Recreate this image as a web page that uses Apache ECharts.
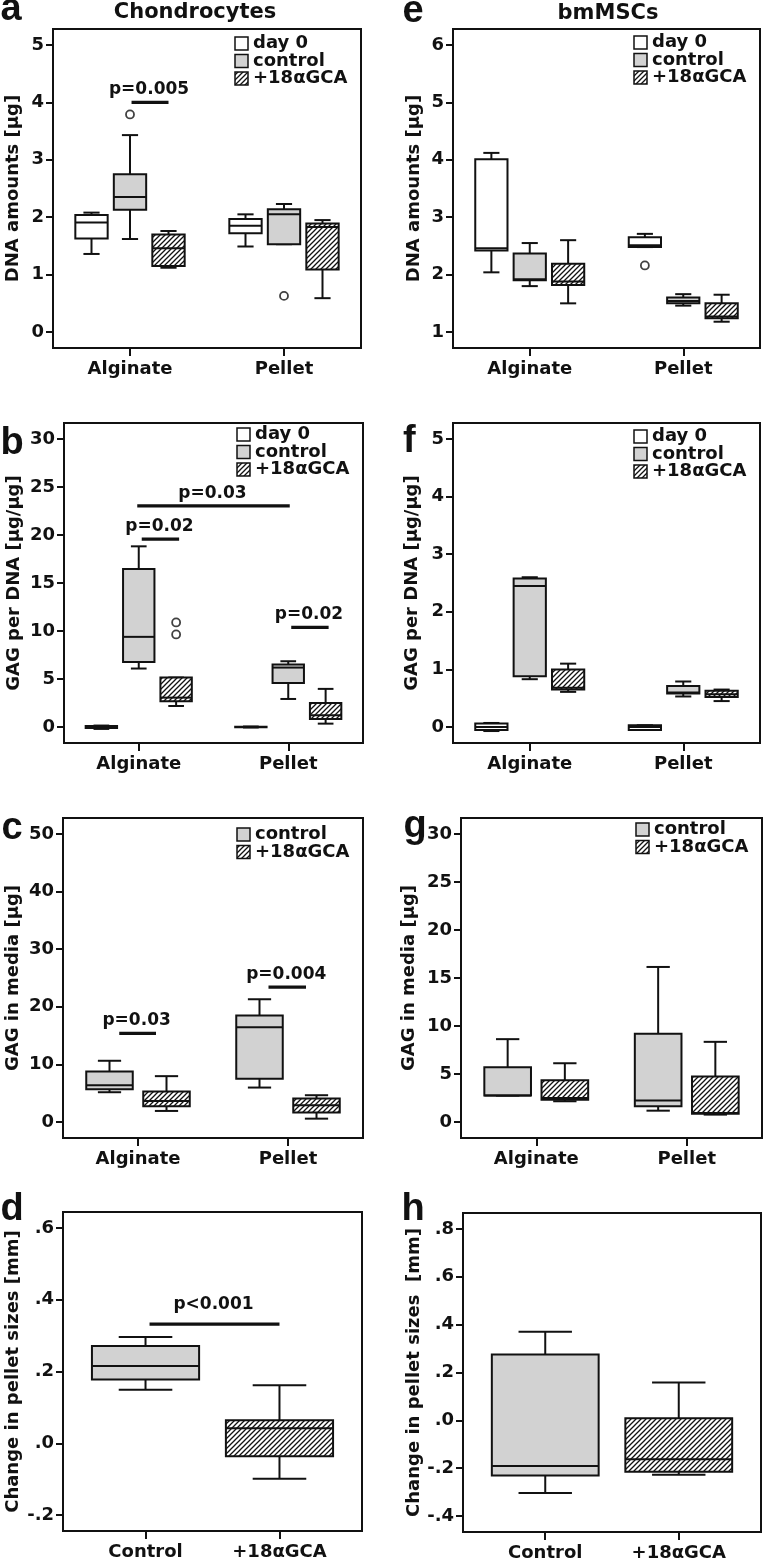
<!DOCTYPE html>
<html>
<head>
<meta charset="utf-8">
<script src="https://cdn.jsdelivr.net/npm/echarts/dist/echarts.min.js"></script>
<style>html,body{margin:0;padding:0;background:#fff}#chart{width:764px;height:1562px}</style>
</head>
<body>
<div id="chart"></div>
<script>
// 类别
const groupCats = ['Alginate', 'Pellet'];
const sizeCats = ['Control', '+18αGCA'];
const seriesNames = ['day 0', 'control', '+18αGCA'];

// 每行: [下须, Q1, 中位数, Q3, 上须]，顺序 Alginate, Pellet
// a: Chondrocytes DNA
const aTicks = [0, 1, 2, 3, 4, 5];
const aDay0 = [[1.36, 1.63, 1.91, 2.04, 2.08], [1.49, 1.72, 1.85, 1.97, 2.05]];
const aControl = [[1.62, 2.13, 2.35, 2.75, 3.43], [1.53, 1.53, 2.05, 2.14, 2.23]];
const aGca = [[1.12, 1.15, 1.46, 1.70, 1.76], [0.59, 1.09, 1.83, 1.89, 1.95]];
const aControlOut = [[0, 3.79], [1, 0.63]];
const aP = [[1.01, 1.25, 4.0, 'p=0.005']];

// b: Chondrocytes GAG/DNA
const bTicks = [0, 5, 10, 15, 20, 25, 30];
const bDay0 = [[-0.2, -0.1, 0, 0.1, 0.15], [-0.05, -0.02, 0, 0.02, 0.05]];
const bControl = [[6.09, 6.78, 9.39, 16.46, 18.82], [2.92, 4.59, 6.19, 6.51, 6.85]];
const bGca = [[2.19, 2.68, 3.06, 5.15, 5.15], [0.35, 0.84, 1.22, 2.50, 3.97]];
const bGcaOut = [[0, 10.89], [0, 9.64]];
const bP = [[1.02, 1.27, 19.56, 'p=0.02'], [0.99, 2.01, 23.04, 'p=0.03'], [2.02, 2.27, 10.37, 'p=0.02']];

// c: Chondrocytes GAG in media
const cTicks = [0, 10, 20, 30, 40, 50];
const cControl = [[5.17, 5.69, 6.39, 8.77, 10.63], [5.98, 7.49, 16.43, 18.47, 21.31]];
const cGca = [[1.92, 2.73, 3.66, 5.28, 7.96], [0.58, 1.63, 2.9, 4.07, 4.65]];
const cP = [[0.875, 1.12, 15.38, 'p=0.03'], [1.87, 2.12, 23.4, 'p=0.004']];

// d: Chondrocytes pellet size
const dTicks = [-0.2, 0, 0.2, 0.4, 0.6];
const dControl = [[0.149, 0.178, 0.215, 0.271, 0.296]];
const dGca = [[-0.099, -0.036, 0.042, 0.064, 0.162]];
const dP = [[1.03, 2.0, 0.332, 'p<0.001']];

// e: bmMSCs DNA
const eTicks = [1, 2, 3, 4, 5, 6];
const eDay0 = [[2.04, 2.42, 2.46, 4.01, 4.12], [2.48, 2.48, 2.51, 2.65, 2.71]];
const eControl = [[1.80, 1.90, 1.92, 2.37, 2.55], [1.46, 1.50, 1.54, 1.60, 1.66]];
const eGca = [[1.50, 1.82, 1.88, 2.19, 2.60], [1.18, 1.24, 1.27, 1.50, 1.65]];
const eDay0Out = [[1, 2.16]];

// f: bmMSCs GAG/DNA
const fTicks = [0, 1, 2, 3, 4, 5];
const fDay0 = [[-0.07, -0.05, 0, 0.06, 0.07], [-0.05, -0.05, 0, 0.03, 0.03]];
const fControl = [[0.83, 0.88, 2.45, 2.58, 2.60], [0.53, 0.58, 0.60, 0.71, 0.79]];
const fGca = [[0.61, 0.65, 0.68, 1.00, 1.10], [0.45, 0.52, 0.57, 0.63, 0.65]];

// g: bmMSCs GAG in media
const gTicks = [0, 5, 10, 15, 20, 25, 30];
const gControl = [[2.75, 2.75, 2.75, 5.71, 8.63], [1.18, 1.64, 2.23, 9.19, 16.15]];
const gGca = [[2.16, 2.33, 2.51, 4.35, 6.12], [0.77, 0.87, 0.94, 4.73, 8.35]];

// h: bmMSCs pellet size
const hTicks = [-0.4, -0.2, 0, 0.2, 0.4, 0.6, 0.8];
const hControl = [[-0.304, -0.230, -0.191, 0.275, 0.370]];
const hGca = [[-0.227, -0.215, -0.163, 0.009, 0.158]];

const FONT = 'DejaVu Sans';
const INK = '#111';
const GRAY = '#d2d2d2';

// 斜线填充
function makeHatch() {
  const s = 5;
  const cv = document.createElement('canvas');
  cv.width = s; cv.height = s;
  const ctx = cv.getContext('2d');
  ctx.fillStyle = '#fff';
  ctx.fillRect(0, 0, s, s);
  ctx.strokeStyle = INK;
  ctx.lineWidth = 1.3;
  ctx.beginPath();
  ctx.moveTo(0, s); ctx.lineTo(s, 0);
  ctx.moveTo(-1, 1); ctx.lineTo(1, -1);
  ctx.moveTo(s - 1, s + 1); ctx.lineTo(s + 1, s - 1);
  ctx.stroke();
  return { image: cv, repeat: 'repeat' };
}
const HATCH = makeHatch();

// 网格位置
const grids = [
  { left: 53, top: 29, width: 308, height: 319 },   // a
  { left: 64, top: 423, width: 299, height: 320 },  // b
  { left: 63, top: 818, width: 300, height: 320 },  // c
  { left: 63, top: 1212, width: 299, height: 319 }, // d
  { left: 453, top: 29, width: 307, height: 319 },  // e
  { left: 453, top: 423, width: 307, height: 320 }, // f
  { left: 461, top: 818, width: 301, height: 320 }, // g
  { left: 463, top: 1213, width: 298, height: 319 } // h
];

function intFmt(v) { return String(Math.round(v)); }
function decFmt(v) { return v.toFixed(1).replace(/^(-?)0\./, '$1.'); }

function xAxisCfg(i, cats, range) {
  return {
    type: 'value', gridIndex: i, min: range[0], max: range[1],
    splitLine: { show: false },
    axisLine: { show: false, onZero: false },
    axisTick: { show: true, customValues: [1, 2], length: 8, lineStyle: { color: INK, width: 2 } },
    axisLabel: {
      customValues: [1, 2], formatter: v => cats[Math.round(v) - 1], margin: 12,
      color: INK, fontSize: 18, fontWeight: 'bold', fontFamily: FONT
    }
  };
}

function yAxisCfg(i, ticks, name, nameGap, fmt) {
  const span = ticks[ticks.length - 1] - ticks[0];
  return {
    type: 'value', gridIndex: i,
    min: ticks[0] - span / 18, max: ticks[ticks.length - 1] + span / 18,
    name: name, nameLocation: 'middle', nameGap: nameGap, nameRotate: 90,
    nameTextStyle: { color: INK, fontSize: 18, fontWeight: 'bold', fontFamily: FONT },
    splitLine: { show: false },
    axisLine: { show: false, onZero: false },
    axisTick: { show: true, customValues: ticks, length: 7, lineStyle: { color: INK, width: 2 } },
    axisLabel: {
      customValues: ticks, formatter: fmt, margin: 9,
      color: INK, fontSize: 18, fontWeight: 'bold', fontFamily: FONT
    }
  };
}

// 箱线图
function boxSeries(i, name, rows, offset, width, fill) {
  return {
    type: 'custom', name: name, xAxisIndex: i, yAxisIndex: i, clip: false,
    data: rows.map((r, k) => [k + 1 + offset].concat(r)),
    encode: { x: 0, y: [1, 2, 3, 4, 5] },
    renderItem(params, api) {
      const x = api.value(0);
      const c = v => api.coord([x, v]);
      const hw = width * api.size([1, 0])[0] / 2;
      const lo = c(api.value(1)), q1 = c(api.value(2)), md = c(api.value(3));
      const q3 = c(api.value(4)), hi = c(api.value(5));
      const cx = lo[0];
      const ln = (x1, y1, x2, y2) => ({
        type: 'line', shape: { x1, y1, x2, y2 }, style: { stroke: INK, lineWidth: 2 }
      });
      return {
        type: 'group', children: [
          ln(cx, hi[1], cx, q3[1]),
          ln(cx, q1[1], cx, lo[1]),
          ln(cx - hw / 2, hi[1], cx + hw / 2, hi[1]),
          ln(cx - hw / 2, lo[1], cx + hw / 2, lo[1]),
          {
            type: 'rect',
            shape: { x: cx - hw, y: q3[1], width: 2 * hw, height: Math.max(q1[1] - q3[1], 0.5) },
            style: { fill: fill, stroke: INK, lineWidth: 2 }
          },
          ln(cx - hw, md[1], cx + hw, md[1])
        ]
      };
    }
  };
}

// 离群点
function outlierSeries(i, pts, offset) {
  return {
    type: 'scatter', xAxisIndex: i, yAxisIndex: i, symbol: 'circle', symbolSize: 8,
    itemStyle: { color: '#fff', borderColor: INK, borderWidth: 1.8 },
    data: pts.map(p => [p[0] + 1 + offset, p[1]]), z: 5
  };
}

// 显著性标注
function pSeries(i, rows, gap) {
  return {
    type: 'custom', xAxisIndex: i, yAxisIndex: i, clip: false, z: 6,
    data: rows.map(r => [r[0], r[1], r[2]]),
    encode: { x: [0, 1], y: 2 },
    renderItem(params, api) {
      const p1 = api.coord([api.value(0), api.value(2)]);
      const p2 = api.coord([api.value(1), api.value(2)]);
      return {
        type: 'group', children: [
          { type: 'line', shape: { x1: p1[0], y1: p1[1], x2: p2[0], y2: p2[1] }, style: { stroke: INK, lineWidth: 3.3 } },
          {
            type: 'text',
            style: {
              x: (p1[0] + p2[0]) / 2 - 1, y: p1[1] - gap, text: rows[params.dataIndex][3],
              align: 'center', verticalAlign: 'bottom', fill: INK,
              font: 'bold 17px "' + FONT + '"'
            }
          }
        ]
      };
    }
  };
}

// 图例
function legendGraphic(g, entries, dy) {
  const x0 = g.left + g.width - 126;
  const out = [];
  entries.forEach((e, k) => {
    const y = g.top + dy + k * 17.5;
    out.push({ type: 'rect', shape: { x: x0, y: y, width: 13, height: 13 }, style: { fill: e[1], stroke: INK, lineWidth: 1.5 } });
    out.push({ type: 'text', style: { x: x0 + 18, y: y + 6.5, text: e[0], fill: INK, font: 'bold 18px "' + FONT + '"', verticalAlign: 'middle' } });
  });
  return out;
}

function letter(t, x, y) {
  return { type: 'text', style: { x: x, y: y, text: t, fill: INK, font: 'bold 38px "Liberation Sans"', verticalAlign: 'middle' } };
}

const fills = ['#fff', GRAY, HATCH];
const R3 = [0.5, 2.5];
const R2 = [0.384, 2.616];
const W3 = 0.21, W2 = 0.31, W1 = 0.8;

const option = {
  animation: false,
  backgroundColor: '#fff',
  grid: grids.map(g => Object.assign({ show: true, borderColor: INK, borderWidth: 2, backgroundColor: 'transparent' }, g)),
  xAxis: [
    xAxisCfg(0, groupCats, R3), xAxisCfg(1, groupCats, R3), xAxisCfg(2, groupCats, R3), xAxisCfg(3, sizeCats, R2),
    xAxisCfg(4, groupCats, R3), xAxisCfg(5, groupCats, R3), xAxisCfg(6, groupCats, R3), xAxisCfg(7, sizeCats, R2)
  ],
  yAxis: [
    yAxisCfg(0, aTicks, 'DNA amounts [µg]', 31, intFmt),
    yAxisCfg(1, bTicks, 'GAG per DNA [µg/µg]', 41, intFmt),
    yAxisCfg(2, cTicks, 'GAG in media [µg]', 41, intFmt),
    yAxisCfg(3, dTicks, 'Change in pellet sizes [mm]', 41, decFmt),
    yAxisCfg(4, eTicks, 'DNA amounts [µg]', 30, intFmt),
    yAxisCfg(5, fTicks, 'GAG per DNA [µg/µg]', 32, intFmt),
    yAxisCfg(6, gTicks, 'GAG in media [µg]', 43, intFmt),
    yAxisCfg(7, hTicks, 'Change in pellet sizes  [mm]', 37, decFmt)
  ],
  series: [
    boxSeries(0, seriesNames[0], aDay0, -0.25, W3, fills[0]),
    boxSeries(0, seriesNames[1], aControl, 0, W3, fills[1]),
    boxSeries(0, seriesNames[2], aGca, 0.25, W3, fills[2]),
    outlierSeries(0, aControlOut, 0),
    pSeries(0, aP, 4),

    boxSeries(1, seriesNames[0], bDay0, -0.25, W3, fills[0]),
    boxSeries(1, seriesNames[1], bControl, 0, W3, fills[1]),
    boxSeries(1, seriesNames[2], bGca, 0.25, W3, fills[2]),
    outlierSeries(1, bGcaOut, 0.25),
    pSeries(1, bP, 4),

    boxSeries(2, seriesNames[1], cControl, -0.19, W2, fills[1]),
    boxSeries(2, seriesNames[2], cGca, 0.19, W2, fills[2]),
    pSeries(2, cP, 4),

    boxSeries(3, sizeCats[0], dControl, 0, W1, fills[1]),
    boxSeries(3, sizeCats[1], dGca.map(r => r), 1, W1, fills[2]),
    pSeries(3, dP, 11),

    boxSeries(4, seriesNames[0], eDay0, -0.25, W3, fills[0]),
    boxSeries(4, seriesNames[1], eControl, 0, W3, fills[1]),
    boxSeries(4, seriesNames[2], eGca, 0.25, W3, fills[2]),
    outlierSeries(4, eDay0Out, -0.25),

    boxSeries(5, seriesNames[0], fDay0, -0.25, W3, fills[0]),
    boxSeries(5, seriesNames[1], fControl, 0, W3, fills[1]),
    boxSeries(5, seriesNames[2], fGca, 0.25, W3, fills[2]),

    boxSeries(6, seriesNames[1], gControl, -0.19, W2, fills[1]),
    boxSeries(6, seriesNames[2], gGca, 0.19, W2, fills[2]),

    boxSeries(7, sizeCats[0], hControl, 0, W1, fills[1]),
    boxSeries(7, sizeCats[1], hGca, 1, W1, fills[2])
  ],
  graphic: [].concat(
    [
      { type: 'text', style: { x: 195, y: 12.7, text: 'Chondrocytes', fill: INK, font: 'bold 21px "' + FONT + '"', align: 'center', verticalAlign: 'middle' } },
      { type: 'text', style: { x: 608, y: 13.4, text: 'bmMSCs', fill: INK, font: 'bold 21px "' + FONT + '"', align: 'center', verticalAlign: 'middle' } },
      letter('a', 0.5, 9.7), letter('b', 0.5, 443.7), letter('c', 1.5, 828.7), letter('d', 0.5, 1209.7),
      letter('e', 402.5, 11.5), letter('f', 403, 441.7), letter('g', 403.5, 826.7), letter('h', 401.5, 1209.7)
    ],
    legendGraphic(grids[0], seriesNames.map((n, k) => [n, fills[k]]), 8),
    legendGraphic(grids[1], seriesNames.map((n, k) => [n, fills[k]]), 5),
    legendGraphic(grids[2], seriesNames.slice(1).map((n, k) => [n, fills[k + 1]]), 10),
    legendGraphic(grids[4], seriesNames.map((n, k) => [n, fills[k]]), 7),
    legendGraphic(grids[5], seriesNames.map((n, k) => [n, fills[k]]), 7),
    legendGraphic(grids[6], seriesNames.slice(1).map((n, k) => [n, fills[k + 1]]), 5)
  )
};

// d 面板第二个箱子位于 x=2
option.series.forEach(s => {
  if (s.type === 'custom' && (s.xAxisIndex === 3 || s.xAxisIndex === 7) && s.name === sizeCats[1]) {
    s.data = s.data.map(r => [2].concat(r.slice(1)));
  }
});

const chart = echarts.init(document.getElementById('chart'), null, { renderer: 'canvas' });
chart.setOption(option);
</script>
</body>
</html>
